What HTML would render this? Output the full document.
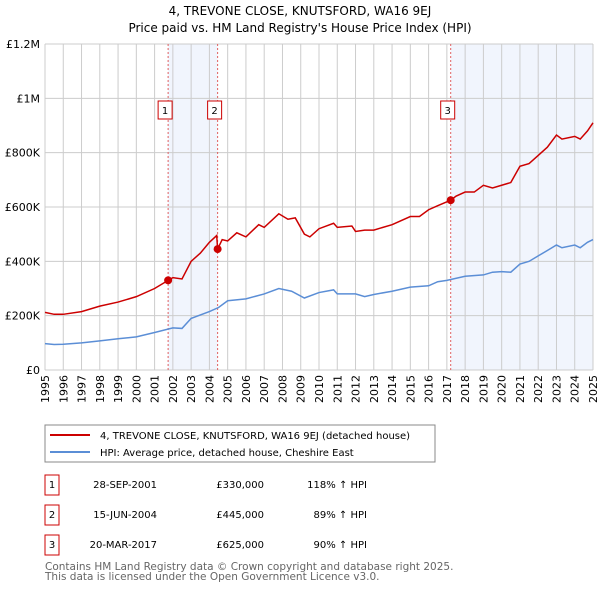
<!DOCTYPE html>
<html><head><meta charset="utf-8"><style>
body{margin:0;background:#fff;font-family:"Liberation Sans","DejaVu Sans",sans-serif;}
svg text{font-family:"DejaVu Sans","Liberation Sans",sans-serif;}
</style></head><body>
<svg id="c" width="600" height="590" viewBox="0 0 600 590" xmlns="http://www.w3.org/2000/svg">
<text x="300" y="15" text-anchor="middle" font-size="12" fill="#000">4, TREVONE CLOSE, KNUTSFORD, WA16 9EJ</text>
<text x="300" y="32" text-anchor="middle" font-size="12" fill="#000">Price paid vs. HM Land Registry's House Price Index (HPI)</text>
<g id="plot"></g>
<rect x="45" y="425" width="390" height="37" fill="#fff" stroke="#888"/>
<line x1="50" y1="435" x2="90" y2="435" stroke="#cc0000" stroke-width="2"/>
<text x="100" y="439" font-size="10">4, TREVONE CLOSE, KNUTSFORD, WA16 9EJ (detached house)</text>
<line x1="50" y1="452" x2="90" y2="452" stroke="#5b8ed6" stroke-width="2"/>
<text x="100" y="456" font-size="10">HPI: Average price, detached house, Cheshire East</text>
<g id="table" font-size="10"></g>
<text x="45" y="570" font-size="10.5" fill="#666">Contains HM Land Registry data © Crown copyright and database right 2025.</text>
<text x="45" y="580" font-size="10.5" fill="#666">This data is licensed under the Open Government Licence v3.0.</text>
</svg>
<script>
const hpiYears=[1995,1995.5,1996,1997,1998,1999,2000,2001,2002,2002.5,2003,2004,2004.5,2005,2006,2007,2007.8,2008.5,2009.2,2010,2010.8,2011,2012,2012.5,2013,2014,2015,2016,2016.5,2017,2018,2019,2019.5,2020,2020.5,2021,2021.5,2022,2022.5,2023,2023.3,2024,2024.3,2024.7,2025];
const hpiValues=[97000,94000,95000,100000,107000,115000,122000,138000,155000,153000,190000,215000,230000,255000,262000,280000,300000,290000,265000,285000,295000,280000,280000,270000,278000,290000,305000,310000,325000,330000,345000,350000,360000,362000,360000,390000,400000,420000,440000,460000,450000,460000,450000,470000,480000];
const propYears=[1995,1995.5,1996,1997,1998,1999,2000,2001,2001.74,2002,2002.5,2003,2003.5,2004,2004.4,2004.45,2004.7,2005,2005.5,2006,2006.7,2007,2007.8,2008.3,2008.7,2009.2,2009.5,2010,2010.8,2011,2011.8,2012,2012.5,2013,2014,2015,2015.5,2016,2016.5,2017.21,2017.5,2018,2018.5,2019,2019.5,2020,2020.5,2021,2021.5,2022,2022.5,2023,2023.3,2024,2024.3,2024.7,2025];
const propValues=[212000,205000,205000,215000,235000,250000,270000,300000,330000,340000,335000,400000,430000,470000,495000,445000,480000,475000,505000,490000,535000,525000,575000,555000,560000,500000,490000,520000,540000,525000,530000,510000,515000,515000,535000,565000,565000,590000,605000,625000,640000,655000,655000,680000,670000,680000,690000,750000,760000,790000,820000,865000,850000,860000,850000,880000,910000];
const saleYears=[2001.74,2004.45,2017.21];
const saleValues=[330000,445000,625000];
const saleLabels=["1","2","3"];
const saleDates=["28-SEP-2001","15-JUN-2004","20-MAR-2017"];
const salePrices=["£330,000","£445,000","£625,000"];
const saleHpi=["118% ↑ HPI","89% ↑ HPI","90% ↑ HPI"];
const yTicks=[0,200000,400000,600000,800000,1000000,1200000];
const yTickLabels=["£0","£200K","£400K","£600K","£800K","£1M","£1.2M"];
const X0=45,X1=593,Y0=370,Y1=44;
const xs=y=>X0+(y-1995)/30*(X1-X0);
const ys=v=>Y0-v/1200000*(Y0-Y1);
const NS="http://www.w3.org/2000/svg";
const plot=document.getElementById('plot');
function mk(t,a,p){const e=document.createElementNS(NS,t);for(const k in a)e.setAttribute(k,a[k]);(p||plot).appendChild(e);return e;}
let e;
e=mk('rect',{x:xs(saleYears[0]),y:Y1,width:xs(saleYears[1])-xs(saleYears[0]),height:Y0-Y1,fill:'#eef3fc',opacity:0.8});


e=mk('rect',{x:xs(saleYears[2]),y:Y1,width:X1-xs(saleYears[2]),height:Y0-Y1,fill:'#eef3fc',opacity:0.8});


for(let yr=1995;yr<=2025;yr++){
 e=mk('line',{x1:xs(yr),x2:xs(yr),y1:Y1,y2:Y0,stroke:'#cccccc','stroke-width':1});
 
 
 e=mk('text',{x:0,y:0,transform:`translate(${xs(yr)+4},${Y0+5}) rotate(-90)`,'text-anchor':'end','font-size':11});
 e.textContent=yr;
 
 
}
yTicks.forEach((v,i)=>{
 e=mk('line',{x1:X0,x2:X1,y1:ys(v),y2:ys(v),stroke:'#cccccc','stroke-width':1});
 
 
 e=mk('text',{x:40,y:ys(v)+4,'text-anchor':'end','font-size':11});
 e.textContent=yTickLabels[i];
 
 
});
saleYears.forEach((yr,i)=>{
 e=mk('line',{x1:xs(yr),x2:xs(yr),y1:Y1,y2:Y0,stroke:'#e06060','stroke-width':1,'stroke-dasharray':'2,2'});
 
 
});
e=mk('polyline',{points:hpiYears.map((y,i)=>xs(y)+','+ys(hpiValues[i])).join(' '),fill:'none',stroke:'#5b8ed6','stroke-width':1.5});


e=mk('polyline',{points:propYears.map((y,i)=>xs(y)+','+ys(propValues[i])).join(' '),fill:'none',stroke:'#cc0000','stroke-width':1.5});


saleYears.forEach((yr,i)=>{
 e=mk('circle',{cx:xs(yr),cy:ys(saleValues[i]),r:4,fill:'#cc0000'});
 
 
 const g=mk('g',{});
 
 
 mk('rect',{x:xs(yr)-10,y:101,width:14,height:18,fill:'#fff',stroke:'#cc0000'},g);
 const t=mk('text',{x:xs(yr)-3,y:114,'text-anchor':'middle','font-size':10},g);
 t.textContent=saleLabels[i];
});
const tb=document.getElementById('table');
saleYears.forEach((yr,i)=>{
 const cy=483+i*30;
 const g=mk('g',{},tb);
 
 
 mk('rect',{x:45,y:cy-8,width:14,height:20,fill:'#fff',stroke:'#cc0000'},g);
 let t=mk('text',{x:52,y:cy+5,'text-anchor':'middle'},g);t.textContent=saleLabels[i];
 t=mk('text',{x:157,y:cy+5,'text-anchor':'end'},g);t.textContent=saleDates[i];
 t=mk('text',{x:264,y:cy+5,'text-anchor':'end'},g);t.textContent=salePrices[i];
 t=mk('text',{x:367,y:cy+5,'text-anchor':'end'},g);t.textContent=saleHpi[i];
});
</script>
</body></html>
